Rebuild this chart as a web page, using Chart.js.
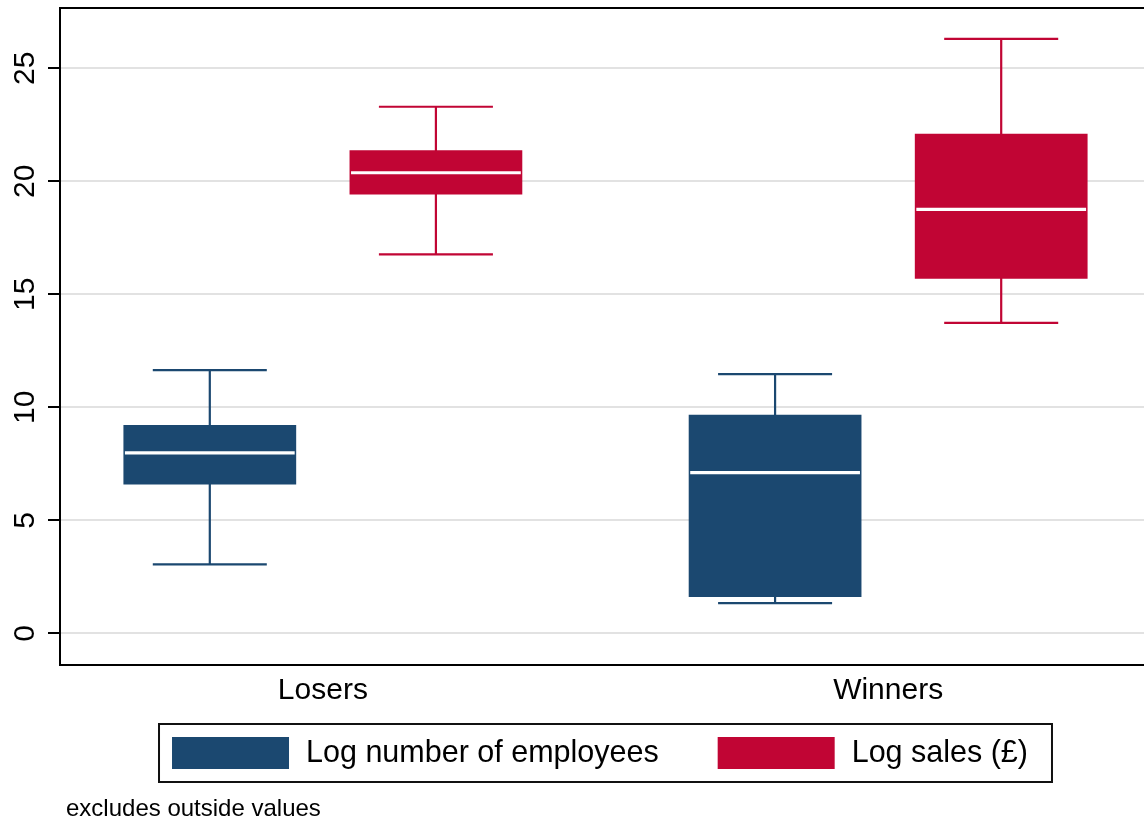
<!DOCTYPE html>
<html>
<head>
<meta charset="utf-8">
<title>Box plot: losers vs winners</title>
<script src="https://cdn.jsdelivr.net/npm/chart.js@4.4.1/dist/chart.umd.min.js"></script>
<style>
  html, body { margin: 0; padding: 0; background: #fff; overflow: hidden; }
  #wrap { width: 1211px; height: 820px; }
</style>
</head>
<body>
<div id="wrap"><canvas id="boxChart" width="1211" height="820"></canvas></div>
<script>
// GROUPS / SERIES
const categories = ['Losers', 'Winners'];
const seriesLabels = ['Log number of employees', 'Log sales (£)'];
const seriesColors = ['#1b4870', '#c10534'];

// BOX STATS PER GROUP [Losers, Winners]
const empLow = [3.05, 1.34];
const empQ1 = [6.59, 1.61];
const empMedian = [7.99, 7.11];
const empQ3 = [9.22, 9.67];
const empHigh = [11.65, 11.47];

const salesLow = [16.77, 13.74];
const salesQ1 = [19.42, 15.69];
const salesMedian = [20.38, 18.76];
const salesQ3 = [21.38, 22.11];
const salesHigh = [23.30, 26.30];

// AXIS
const yTicks = [0, 5, 10, 15, 20, 25];
const yMin = -1.40;
const yMax = 27.67;
const noteText = 'excludes outside values';

const FONT = '"Liberation Sans", Arial, Helvetica, sans-serif';
Chart.defaults.font.family = FONT;
Chart.defaults.color = '#000';

function makeSeries(label, color, low, q1, med, q3, high) {
  return {
    label,
    backgroundColor: color,
    borderColor: color,
    borderWidth: 0,
    borderSkipped: false,
    data: categories.map((c, i) => ({ x: i + 1, y: [q1[i], q3[i]] })),
    low, median: med, high
  };
}

// whiskers under the boxes, white medians on top
const boxParts = {
  id: 'boxParts',
  beforeDatasetsDraw(chart) {
    const { ctx, scales: { y } } = chart;
    chart.data.datasets.forEach((ds, di) => {
      chart.getDatasetMeta(di).data.forEach((bar, i) => {
        const lo = y.getPixelForValue(ds.low[i]);
        const hi = y.getPixelForValue(ds.high[i]);
        const cap = bar.width * 0.33;
        ctx.save();
        ctx.strokeStyle = ds.backgroundColor;
        ctx.lineWidth = 2.2;
        ctx.beginPath();
        ctx.moveTo(bar.x, lo); ctx.lineTo(bar.x, hi);
        ctx.moveTo(bar.x - cap, lo); ctx.lineTo(bar.x + cap, lo);
        ctx.moveTo(bar.x - cap, hi); ctx.lineTo(bar.x + cap, hi);
        ctx.stroke();
        ctx.restore();
      });
    });
  },
  afterDatasetsDraw(chart) {
    const { ctx, scales: { y } } = chart;
    chart.data.datasets.forEach((ds, di) => {
      chart.getDatasetMeta(di).data.forEach((bar, i) => {
        const my = y.getPixelForValue(ds.median[i]);
        const half = bar.width / 2 - 1.5;
        ctx.save();
        ctx.strokeStyle = '#fff';
        ctx.lineWidth = 3.2;
        ctx.beginPath();
        ctx.moveTo(bar.x - half, my); ctx.lineTo(bar.x + half, my);
        ctx.stroke();
        ctx.restore();
      });
    });
  }
};

// frame, rotated y labels, boxed legend and the note
const decorations = {
  id: 'decorations',
  afterDraw(chart) {
    const { ctx, chartArea: area, scales: { y } } = chart;
    ctx.save();

    ctx.strokeStyle = '#000';
    ctx.lineWidth = 2;
    ctx.strokeRect(area.left, area.top, area.right - area.left, area.bottom - area.top);

    ctx.fillStyle = '#000';
    ctx.font = '30px ' + FONT;
    ctx.textAlign = 'center';
    ctx.textBaseline = 'alphabetic';
    y.ticks.forEach(t => {
      ctx.save();
      ctx.translate(area.left - 26, y.getPixelForValue(t.value));
      ctx.rotate(-Math.PI / 2);
      ctx.fillText(String(t.value), 0, 0);
      ctx.restore();
    });

    // LEGEND
    ctx.font = '30.5px ' + FONT;
    const boxW = 117, boxH = 32, textGap = 17, itemGap = 59, padL = 13, padR = 24;
    const sets = chart.data.datasets;
    const widths = sets.map(ds => ctx.measureText(ds.label).width);
    let itemsW = itemGap * (sets.length - 1);
    widths.forEach(w => { itemsW += boxW + textGap + w; });
    const frameW = itemsW + padL + padR;
    const frameH = 58;
    const fx = (area.left + area.right) / 2 - frameW / 2;
    const fy = area.bottom + 59;
    ctx.lineWidth = 2;
    ctx.strokeStyle = '#111';
    ctx.strokeRect(fx, fy, frameW, frameH);
    let x = fx + padL;
    const sy = fy + 13;
    ctx.textAlign = 'left';
    ctx.textBaseline = 'middle';
    sets.forEach((ds, i) => {
      ctx.fillStyle = ds.backgroundColor;
      ctx.fillRect(x, sy, boxW, boxH);
      ctx.fillStyle = '#000';
      ctx.fillText(ds.label, x + boxW + textGap, sy + boxH / 2 + 1);
      x += boxW + textGap + widths[i] + itemGap;
    });

    // NOTE
    ctx.font = '24px ' + FONT;
    ctx.textBaseline = 'alphabetic';
    ctx.fillText(noteText, area.left + 6, 816);
    ctx.restore();
  }
};

new Chart(document.getElementById('boxChart'), {
  type: 'bar',
  data: {
    datasets: [
      makeSeries(seriesLabels[0], seriesColors[0], empLow, empQ1, empMedian, empQ3, empHigh),
      makeSeries(seriesLabels[1], seriesColors[1], salesLow, salesQ1, salesMedian, salesQ3, salesHigh)
    ]
  },
  options: {
    responsive: false,
    animation: false,
    categoryPercentage: 0.8,
    barPercentage: 0.764,
    layout: { padding: { top: 8, right: 60, left: 0, bottom: 103 } },
    plugins: { legend: { display: false }, tooltip: { enabled: false } },
    scales: {
      x: {
        type: 'linear',
        offset: false,
        min: 0.535,
        max: 2.465,
        grid: { display: false, drawTicks: false },
        border: { display: false },
        afterBuildTicks: s => { s.ticks = categories.map((c, i) => ({ value: i + 1 })); },
        ticks: {
          padding: 8,
          font: { size: 30 },
          color: '#000',
          callback: v => categories[v - 1]
        }
      },
      y: {
        min: yMin,
        max: yMax,
        afterBuildTicks: s => { s.ticks = yTicks.map(v => ({ value: v })); },
        afterFit: s => { s.width = 60; },
        ticks: { display: false },
        border: { display: false },
        grid: {
          color: '#e2e2e2',
          lineWidth: 2,
          drawTicks: true,
          tickLength: 12,
          tickColor: '#000',
          tickWidth: 2
        }
      }
    }
  },
  plugins: [boxParts, decorations]
});
</script>
</body>
</html>
